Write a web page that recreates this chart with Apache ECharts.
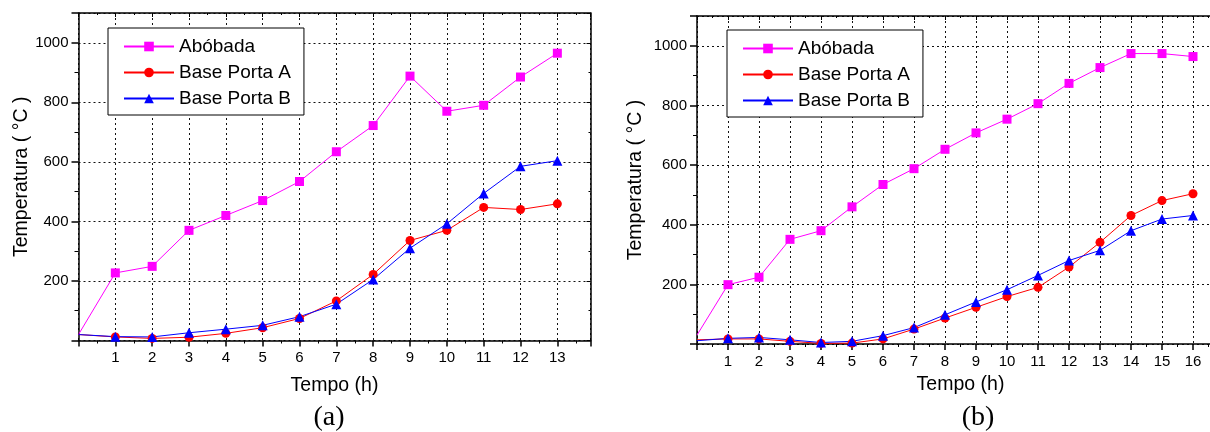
<!DOCTYPE html>
<html>
<head>
<meta charset="utf-8">
<title>Temperatura x Tempo</title>
<script src="https://cdn.jsdelivr.net/npm/echarts@6/dist/echarts.min.js"></script>
<style>
  html, body { margin: 0; padding: 0; background: #fff; }
  #main { width: 1210px; height: 432px; }
</style>
</head>
<body>
<div id="main"></div>
<script>
// ---- dados (a) ----
var tempoA = [0, 1, 2, 3, 4, 5, 6, 7, 8, 9, 10, 11, 12, 13];
var abobadaA = [20, 227, 249, 370, 420, 470, 534, 634, 722, 888, 770, 790, 885, 965];
var portaAA = [20, 12, 7, 11, 24, 43, 74, 133, 222, 336, 370, 447, 440, 459];
var portaBA = [20, 13, 12, 26, 38, 51, 80, 122, 205, 310, 392, 494, 585, 604];

// ---- dados (b) ----
var tempoB = [0, 1, 2, 3, 4, 5, 6, 7, 8, 9, 10, 11, 12, 13, 14, 15, 16];
var abobadaB = [30, 199, 224, 351, 380, 460, 535, 588, 653, 708, 754, 806, 874, 927, 974, 974, 964];
var portaAB = [14, 17, 17, 9, 2, 3, 17, 50, 87, 123, 159, 190, 258, 341, 431, 481, 504];
var portaBB = [11, 19, 22, 14, 5, 9, 28, 55, 98, 141, 182, 230, 280, 314, 380, 419, 431];

var nomes = ['Abóbada', 'Base Porta A', 'Base Porta B'];
var rotulos = ['(a)', '(b)'];

var fonte = '"Liberation Sans", Arial, sans-serif';
var preto = '#000';

// o primeiro ponto (t = 0) não tem marcador
function pares(t, v) {
  return v.map(function (y, i) {
    return i === 0 ? { value: [t[i], y], symbol: 'none' } : [t[i], y];
  });
}

function serie(nome, dados, cor, simbolo, tam, idx) {
  return {
    name: nome,
    type: 'line',
    xAxisIndex: idx * 2,
    yAxisIndex: idx === 0 ? 0 : 2,
    data: dados,
    symbol: simbolo,
    symbolSize: tam,
    showAllSymbol: true,
    itemStyle: { color: cor },
    lineStyle: { color: cor, width: 1 },
    z: 3
  };
}

var grade = { show: true, lineStyle: { color: '#111', type: [2, 3], width: 1 } };

function eixoX(g, max, ultimo, gap) {
  return [{
    gridIndex: g, type: 'value', min: 0, max: max, interval: 1, position: 'bottom',
    name: 'Tempo (h)', nameLocation: 'middle', nameGap: gap,
    nameTextStyle: { fontSize: 19.5, color: preto, fontFamily: fonte },
    axisLine: { show: true, onZero: false, lineStyle: { color: preto, width: 1.5 } },
    axisTick: { show: true, length: 6, lineStyle: { color: preto, width: 1.5 } },
    minorTick: { show: true, splitNumber: 2, length: 3, lineStyle: { color: preto } },
    axisLabel: {
      fontSize: 15, color: preto, margin: 10, fontFamily: fonte,
      formatter: function (v) { return (v > 0 && v <= ultimo && v % 1 === 0) ? String(v) : ''; }
    },
    splitLine: grade
  }, {
    gridIndex: g, type: 'value', min: 0, max: max, interval: 1, position: 'top',
    axisLine: { show: true, onZero: false, lineStyle: { color: preto, width: 1.5 } },
    axisTick: { show: true, inside: true, length: 4, lineStyle: { color: preto } },
    minorTick: { show: true, splitNumber: 2, length: 2, lineStyle: { color: preto } },
    axisLabel: { show: false },
    splitLine: { show: false }
  }];
}

function eixoY(g, gap, direita) {
  var eixos = [{
    gridIndex: g, type: 'value', min: 0, max: 1100, interval: 200, position: 'left',
    name: 'Temperatura ( °C )', nameLocation: 'middle', nameGap: gap,
    nameTextStyle: { fontSize: 19.5, color: preto, fontFamily: fonte },
    axisLine: { show: true, onZero: false, lineStyle: { color: preto, width: 1.5 } },
    axisTick: { show: true, length: 7, lineStyle: { color: preto, width: 1.5 } },
    minorTick: { show: true, splitNumber: 2, length: 4, lineStyle: { color: preto } },
    axisLabel: {
      fontSize: 15, color: preto, margin: 10, fontFamily: fonte,
      formatter: function (v) { return (v > 0 && v % 200 === 0) ? String(v) : ''; }
    },
    splitLine: grade
  }];
  if (direita) {
    eixos.push({
      gridIndex: g, type: 'value', min: 0, max: 1100, interval: 200, position: 'right',
      axisLine: { show: true, onZero: false, lineStyle: { color: preto, width: 1.5 } },
      axisTick: { show: true, inside: true, length: 4, lineStyle: { color: preto } },
      minorTick: { show: true, splitNumber: 2, length: 2, lineStyle: { color: preto } },
      axisLabel: { show: false },
      splitLine: { show: false }
    });
  } else {
    eixos.push({ gridIndex: g, type: 'value', min: 0, max: 1100, show: false });
  }
  return eixos;
}

function legenda(esq, topo) {
  return {
    data: nomes, orient: 'vertical', left: esq, top: topo,
    backgroundColor: '#fff', borderColor: preto, borderWidth: 1, borderRadius: 0,
    padding: [9, 13, 7, 15], itemWidth: 50, itemHeight: 12, itemGap: 7,
    textStyle: { fontSize: 19, color: preto, fontFamily: fonte, lineHeight: 19 },
    selectedMode: false
  };
}

var myChart = echarts.init(document.getElementById('main'));

var option = {
  animation: false,
  backgroundColor: '#fff',
  grid: [
    { left: 78.5, top: 13, width: 512, height: 327.5, outerBoundsMode: 'none', containLabel: false },
    { left: 697, top: 16, width: 527, height: 328, outerBoundsMode: 'none', containLabel: false }
  ],
  xAxis: eixoX(0, 13.9, 13, 35).concat(eixoX(1, 17, 16, 31)),
  yAxis: eixoY(0, 47, true).concat(eixoY(1, 51, false)),
  legend: [legenda(108, 28), legenda(727, 30)],
  graphic: [
    { type: 'text', x: 329, y: 418, style: { text: rotulos[0], font: '28px "Liberation Serif", "Times New Roman", serif', fill: preto, align: 'center', verticalAlign: 'middle' } },
    { type: 'text', x: 978, y: 418, style: { text: rotulos[1], font: '28px "Liberation Serif", "Times New Roman", serif', fill: preto, align: 'center', verticalAlign: 'middle' } }
  ],
  series: [
    serie(nomes[0], pares(tempoA, abobadaA), '#ff00ff', 'rect', 9, 0),
    serie(nomes[1], pares(tempoA, portaAA), '#ff0000', 'circle', 9, 0),
    serie(nomes[2], pares(tempoA, portaBA), '#0000ff', 'triangle', 10, 0),
    serie(nomes[0], pares(tempoB, abobadaB), '#ff00ff', 'rect', 9, 1),
    serie(nomes[1], pares(tempoB, portaAB), '#ff0000', 'circle', 9, 1),
    serie(nomes[2], pares(tempoB, portaBB), '#0000ff', 'triangle', 10, 1)
  ]
};

myChart.setOption(option);
</script>
</body>
</html>
